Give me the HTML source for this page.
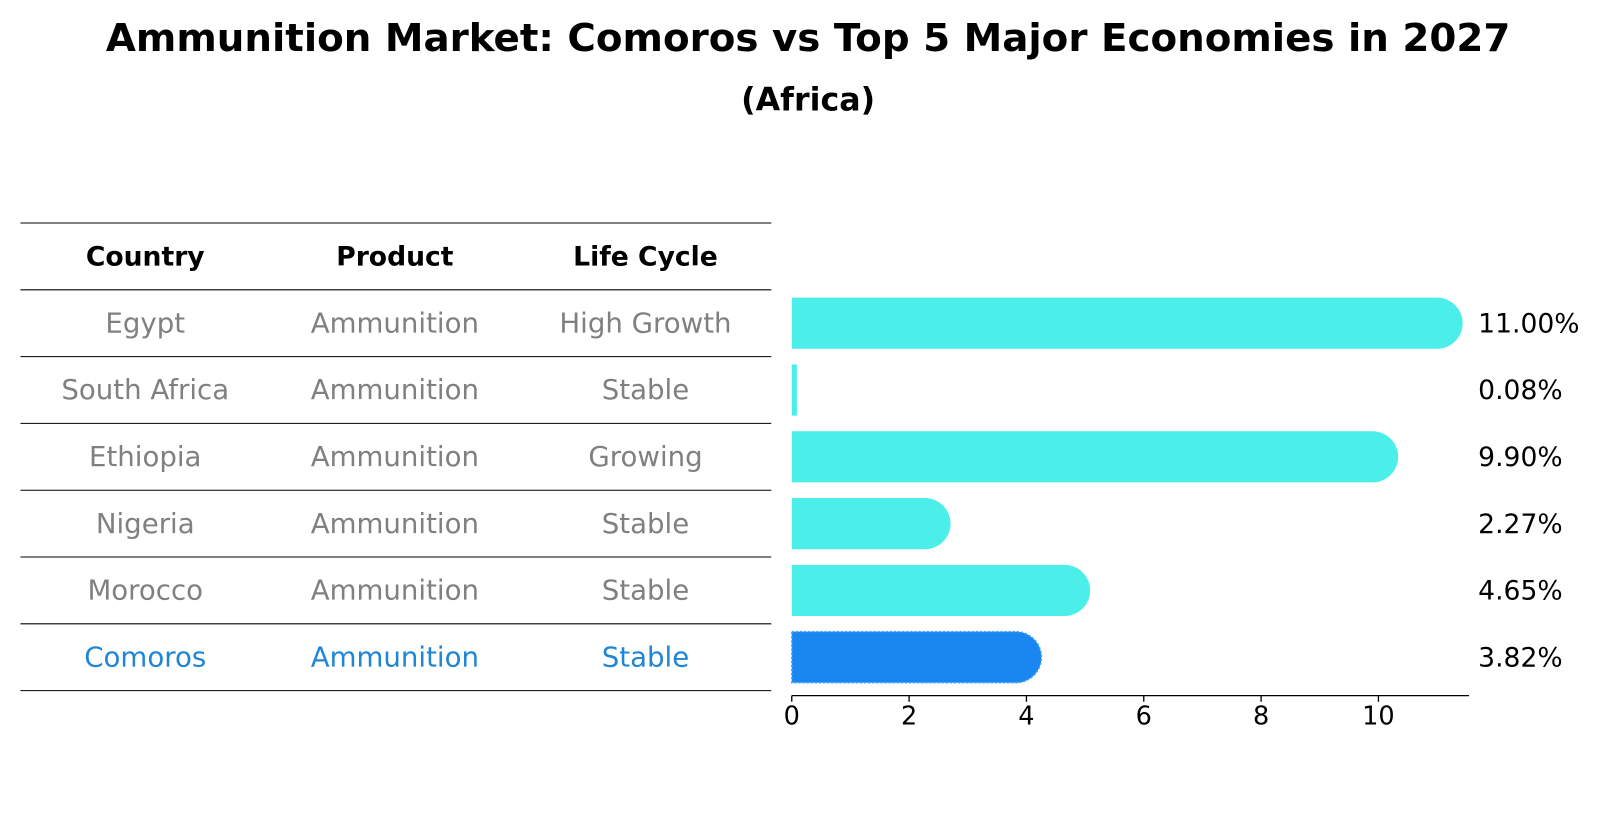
<!DOCTYPE html>
<html><head><meta charset="utf-8"><style>
html,body{margin:0;padding:0;background:#fff;}
text{font-family:"DejaVu Sans","Liberation Sans",sans-serif;}
</style></head><body>
<svg id="chart" width="1604" height="823" viewBox="0 0 1568 804.5" xmlns="http://www.w3.org/2000/svg">
<text x="790" y="50" text-anchor="middle" font-size="37" font-weight="bold" textLength="1373" lengthAdjust="spacingAndGlyphs">Ammunition Market: Comoros vs Top 5 Major Economies in 2027</text>
<text x="790" y="108" text-anchor="middle" font-size="31" font-weight="bold">(Africa)</text>
<g id="table"></g>
<g id="bars"></g>
</svg>
<script>
const countries=["Egypt","South Africa","Ethiopia","Nigeria","Morocco","Comoros"];
const products=["Ammunition","Ammunition","Ammunition","Ammunition","Ammunition","Ammunition"];
const cycles=["High Growth","Stable","Growing","Stable","Stable","Stable"];
const values=[11.00,0.08,9.90,2.27,4.65,3.82];
const xTicks=[0,2,4,6,8,10];
const NS="http://www.w3.org/2000/svg";
function mk(tag,attrs,parent,txt){const e=document.createElementNS(NS,tag);for(const k in attrs)e.setAttribute(k,attrs[k]);if(txt!==undefined)e.textContent=txt;parent.appendChild(e);return e;}
const table=document.getElementById('table');
const bars=document.getElementById('bars');
const rowTop=218,rowH=65.3,colX=[142,386,631];
const n=countries.length;
for(let i=0;i<=n+1;i++){
  const y=rowTop+i*rowH;
  const l=mk('line',{x1:20,x2:754,y1:y,y2:y,stroke:'#000','stroke-width':1},table);
  
  
}
const heads=["Country","Product","Life Cycle"];
heads.forEach((h,j)=>{
  const t=mk('text',{x:colX[j],y:rowTop+rowH/2+9,'text-anchor':'middle','font-size':26,'font-weight':'bold'},table,h);
  
  
});
const x0=774,sx=57.35;
function X(v){return x0+v*sx;}
function Yc(i){return rowTop+rowH*(i+1.5);}
for(let i=0;i<n;i++){
  const last=i===n-1;
  const col=last?'#1f86d6':'#808080';
  [countries[i],products[i],cycles[i]].forEach((s,j)=>{
    const t=mk('text',{x:colX[j],y:Yc(i)+9,'text-anchor':'middle','font-size':27,fill:col},table,s);
    
    
  });
  const v=values[i],h=50,y=Yc(i)-h/2,w=X(v)-x0,r=h/2;
  const fill=last?'#1a86f0':'#4beee8';
  let d;
  if(v>0.5){d=`M${x0},${y} H${x0+w} A${r},${r} 0 0 1 ${x0+w},${y+h} H${x0} Z`;}
  else{d=`M${x0},${y} H${x0+Math.max(w,5)} V${y+h} H${x0} Z`;}
  const p=mk('path',{d:d,fill:fill},bars);
  if(last){p.setAttribute('stroke','#4aa3f5');p.setAttribute('stroke-dasharray','2,2');p.setAttribute('stroke-width','1.5');}
  
  
  const lb=mk('text',{x:1445,y:Yc(i)+9,'font-size':26},bars,v.toFixed(2)+'%');
  
  
}
const axY=680;
const ax=mk('line',{x1:x0,x2:1436,y1:axY,y2:axY,stroke:'#000','stroke-width':1.3},bars);


xTicks.forEach(t=>{
  const tk=mk('line',{x1:X(t),x2:X(t),y1:axY,y2:axY+6,stroke:'#000','stroke-width':1.3},bars);
  
  
  const tl=mk('text',{x:X(t),y:axY+28,'text-anchor':'middle','font-size':25},bars,String(t));
  
  
});
</script>
</body></html>
